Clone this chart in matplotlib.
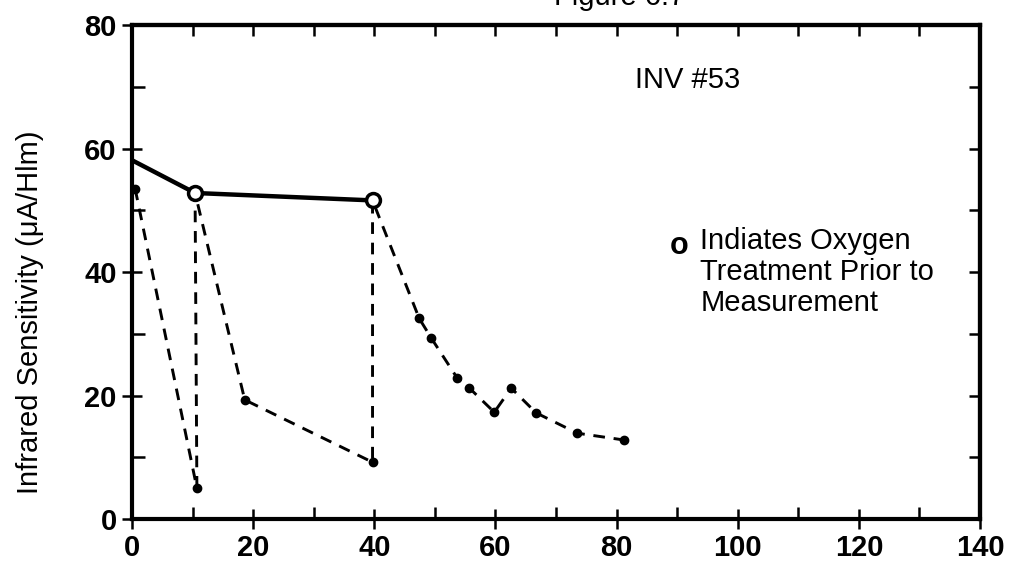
import numpy as np
import matplotlib
matplotlib.use('Agg')
import matplotlib.pyplot as plt
from matplotlib.ticker import MultipleLocator

plt.rcParams['font.family'] = ['Liberation Sans Narrow', 'Liberation Sans', 'DejaVu Sans']

# solid line: sensitivity right after oxygen treatment
solid_x = [0, 10.4, 39.7]
solid_y = [58.1, 52.8, 51.6]

# dashed line: decay between treatments
dash_x = [0.5, 10.7, 10.4, 18.6, 39.7, 39.7, 47.4, 49.4, 53.7, 55.7, 59.8, 62.6, 66.7, 73.5, 81.2]
dash_y = [53.5, 5.0, 52.8, 19.3, 9.2, 51.6, 32.5, 29.3, 22.8, 21.2, 17.3, 21.2, 17.2, 13.9, 12.8]

# oxygen treated points (open circles)
oxy_x = [10.4, 39.7]
oxy_y = [52.8, 51.6]

dot_x = [v for i, v in enumerate(dash_x) if i not in (2, 5)]
dot_y = [v for i, v in enumerate(dash_y) if i not in (2, 5)]

fig = plt.figure(figsize=(10.16, 5.73), dpi=100)
ax = fig.add_axes([0.130, 0.0942, 0.8346, 0.8621])

ax.plot(dash_x, dash_y, color='k', lw=2.1, dashes=(4, 3), zorder=2)
ax.plot(dot_x, dot_y, 'o', color='k', ms=6, zorder=3, clip_on=False)
ax.plot(solid_x, solid_y, color='k', lw=3.2, solid_capstyle='butt', zorder=4, clip_on=False)
ax.plot(oxy_x, oxy_y, 'o', mfc='white', mec='k', mew=2.5, ms=10, zorder=5)

ax.set_xlim(0, 140)
ax.set_ylim(0, 80)

for s in ax.spines.values():
    s.set_linewidth(3)

ax.xaxis.set_major_locator(MultipleLocator(20))
ax.xaxis.set_minor_locator(MultipleLocator(10))
ax.yaxis.set_major_locator(MultipleLocator(20))
ax.yaxis.set_minor_locator(MultipleLocator(10))
ax.tick_params(which='major', direction='inout', length=14, width=1.8,
               labelsize=21, pad=4)
ax.tick_params(which='minor', direction='in', length=9, width=1.8)
for lab in ax.get_xticklabels() + ax.get_yticklabels():
    lab.set_fontweight('bold')

# inward ticks on top and right
top = ax.secondary_xaxis('top')
top.xaxis.set_major_locator(MultipleLocator(10))
top.tick_params(direction='in', length=8, width=1.8, labeltop=False)
top.spines['top'].set_linewidth(3)
right = ax.secondary_yaxis('right')
right.yaxis.set_major_locator(MultipleLocator(10))
right.tick_params(direction='in', length=8, width=1.8, labelright=False)
right.spines['right'].set_linewidth(3)

fig.text(0.030, 0.455, 'Infrared Sensitivity (\u03bcA/Hlm)', rotation=90,
         ha='center', va='center', fontsize=21)

ax.text(0.593, 0.889, 'INV #53', transform=ax.transAxes, fontsize=21, va='center')
ax.text(0.645, 0.553, 'o', transform=ax.transAxes, fontsize=22, fontweight='bold',
        ha='center', va='center')
ax.text(0.670, 0.592, 'Indiates Oxygen\nTreatment Prior to\nMeasurement',
        transform=ax.transAxes, fontsize=21, va='top', linespacing=1.15)

# figure caption, cut off by the top edge as in the scan
fig.text(0.61, 1.005, 'Figure 6.7', fontsize=21, ha='center', va='center')

fig.savefig('out.png', dpi=100)
